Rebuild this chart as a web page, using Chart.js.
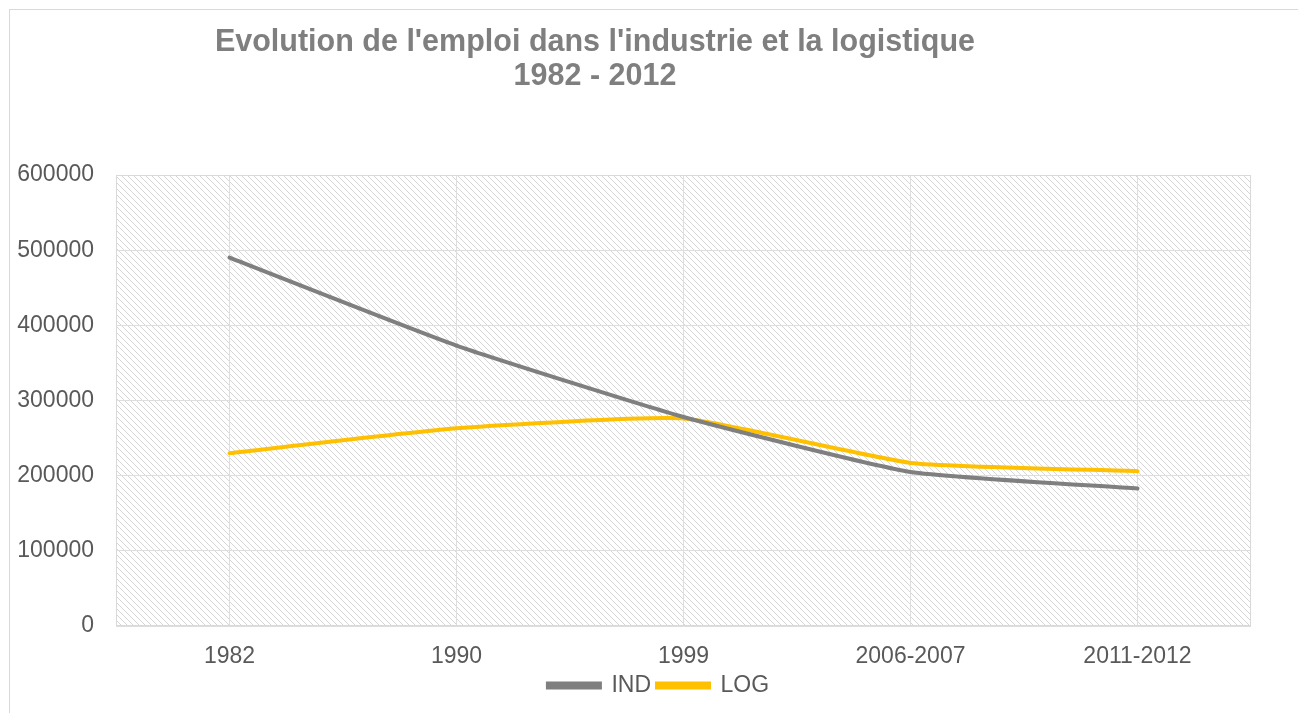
<!DOCTYPE html>
<html>
<head>
<meta charset="utf-8">
<script src="https://cdn.jsdelivr.net/npm/chart.js@4.4.0/dist/chart.umd.min.js"></script>
<style>
  body { margin: 0; background: #fff; overflow: hidden; }
  #frame { position: absolute; left: 9px; top: 9px; width: 1400px; height: 800px; border-left: 1px solid #d9d9d9; border-top: 1px solid #d9d9d9; }
  #title { position: absolute; left: 0; top: 23px; width: 1190px; text-align: center;
           font: bold 30.5px "Liberation Sans", Arial, sans-serif; color: #7f7f7f; line-height: 34px; }
  #wrap { position: absolute; left: 0; top: 0; width: 1298px; height: 713px; }
</style>
</head>
<body>
<div id="frame"></div>
<div id="wrap"><canvas id="emploiChart"></canvas></div>
<div id="title">Evolution de l'emploi dans l'industrie et la logistique<br>1982 - 2012</div>
<script>
// data
const years = ["1982", "1990", "1999", "2006-2007", "2011-2012"];
const ind = [490000, 373000, 278000, 205000, 183000];
const log = [230000, 263000, 276000, 217000, 206000];
const yTicks = [0, 100000, 200000, 300000, 400000, 500000, 600000];

// hatch pattern for the plot area
function makeHatch() {
    const c = document.createElement("canvas");
    c.width = 6; c.height = 6;
    const g = c.getContext("2d");
    g.fillStyle = "#ffffff";
    g.fillRect(0, 0, 6, 6);
    g.fillStyle = "#d6d6d6";
    for (let i = 0; i < 6; i++) {
        g.fillRect(i, i, 1, 1);
    }
    return g.createPattern(c, "repeat");
}

const plotBg = {
    id: "plotBg",
    afterLayout(chart) {
        // legend sits a bit right of the plot centre in the original
        chart.legend.left += 33;
        chart.legend.right += 33;
    },
    beforeDraw(chart) {
        const a = chart.chartArea;
        const ctx = chart.ctx;
        ctx.save();
        ctx.fillStyle = makeHatch();
        ctx.fillRect(a.left, a.top, a.right - a.left, a.bottom - a.top);
        ctx.restore();
    },
    beforeDatasetsDraw(chart) {
        const a = chart.chartArea;
        const ctx = chart.ctx;
        ctx.save();
        ctx.strokeStyle = "#d9d9d9";
        ctx.lineWidth = 1;
        ctx.strokeRect(a.left + 0.5, a.top + 0.5, a.right - a.left - 1, a.bottom - a.top - 1);
        ctx.restore();
    }
};

const tickFont = { family: 'Liberation Sans', size: 23 };

const ctx = document.getElementById("emploiChart");
let lineChart = new Chart(ctx, {
    type: 'line',
    data: {
        labels: years,
        datasets: [{
            label: 'IND',
            data: ind,
            borderColor: '#7f7f7f',
            backgroundColor: '#7f7f7f',
            borderWidth: 4,
            pointRadius: 0,
            tension: 0.15,
            borderCapStyle: 'round'
        },
        {
            label: 'LOG',
            data: log,
            borderColor: '#ffc000',
            backgroundColor: '#ffc000',
            borderWidth: 4,
            pointRadius: 0,
            tension: 0.15,
            borderCapStyle: 'round'
        }]
    },
    options: {
        responsive: true,
        maintainAspectRatio: false,
        animation: false,
        layout: { padding: { left: 0, right: 47, top: 175, bottom: 6 } },
        scales: {
            x: {
                offset: true,
                grid: { color: '#dedede', drawTicks: false, offset: false },
                border: { display: false },
                ticks: { color: '#595959', font: tickFont, padding: 17 },
                afterFit: (s) => { s.height = 42; }
            },
            y: {
                min: 0,
                max: 600000,
                afterBuildTicks: (s) => { s.ticks = yTicks.map(v => ({ value: v })); },
                grid: { color: '#dedede', drawTicks: false },
                border: { display: false },
                ticks: {
                    color: '#595959',
                    font: tickFont,
                    padding: 22,
                    callback: (v) => String(v)
                },
                afterFit: (s) => { s.width = 116; }
            }
        },
        plugins: {
            legend: {
                position: 'bottom',
                labels: {
                    color: '#595959',
                    font: tickFont,
                    boxWidth: 52,
                    boxHeight: 4,
                    padding: 6
                }
            },
            tooltip: { enabled: false }
        }
    },
    plugins: [plotBg]
});
</script>
</body>
</html>
